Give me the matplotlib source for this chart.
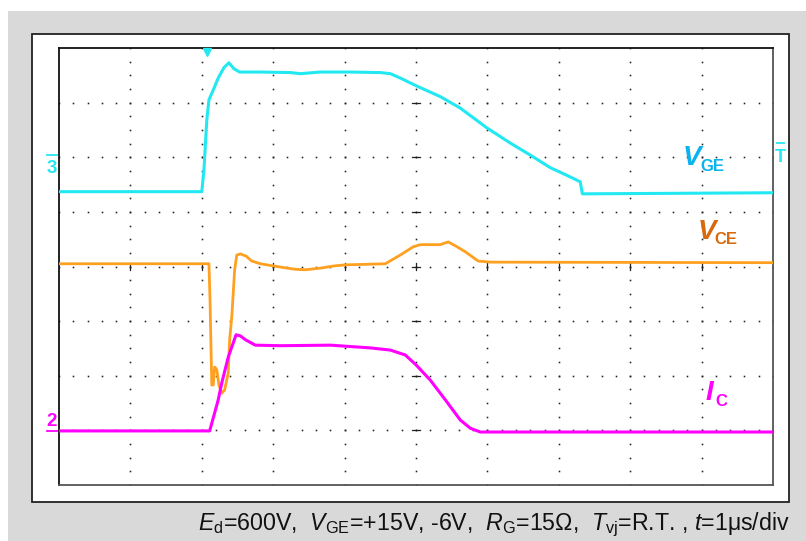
import numpy as np
import matplotlib
matplotlib.use('Agg')
import matplotlib.pyplot as plt
from matplotlib.patches import Rectangle
from matplotlib.lines import Line2D

plt.rcParams['font.family'] = ['Liberation Sans', 'DejaVu Sans']
plt.rcParams['mathtext.fontset'] = 'custom'
plt.rcParams['mathtext.rm'] = 'Liberation Sans'
plt.rcParams['mathtext.it'] = 'Liberation Sans:italic'

# time in us (1 us/div), amplitude in screen divisions (0 = bottom, 8 = top)
t_vge = [0, 2.00, 2.03, 2.07, 2.10, 2.16, 2.23, 2.31, 2.38, 2.45, 2.53, 2.82, 3.24, 3.38,
         3.66, 4.08, 4.50, 4.64, 4.78, 5.00, 5.34, 5.62, 5.99, 6.32, 6.60, 6.88, 7.16,
         7.30, 7.33, 10]
vge = [5.37, 5.37, 5.77, 6.68, 7.05, 7.23, 7.45, 7.64, 7.73, 7.62, 7.56, 7.56, 7.55, 7.53,
       7.56, 7.56, 7.55, 7.53, 7.45, 7.31, 7.11, 6.90, 6.54, 6.26, 6.04, 5.81, 5.64,
       5.55, 5.33, 5.35]

t_vce = [0, 2.10, 2.115, 2.14, 2.16, 2.18, 2.21, 2.24, 2.28, 2.32, 2.37, 2.39, 2.42, 2.46,
         2.49, 2.54, 2.62, 2.70, 2.82, 3.10, 3.30, 3.45, 3.66, 3.85, 4.01, 4.57, 4.78, 4.96,
         5.06, 5.34, 5.45, 5.55, 5.69, 5.87, 6.04, 10]
vce = [4.05, 4.05, 3.39, 1.83, 1.83, 2.16, 2.11, 1.83, 1.68, 1.74, 2.05, 2.66, 3.08, 3.94,
       4.21, 4.23, 4.19, 4.10, 4.05, 3.99, 3.95, 3.94, 3.97, 4.01, 4.03, 4.05, 4.21, 4.36,
       4.40, 4.40, 4.45, 4.38, 4.27, 4.10, 4.08, 4.07]

t_ic = [0, 2.11, 2.18, 2.23, 2.28, 2.37, 2.44, 2.48, 2.54, 2.61, 2.75, 3.10, 3.80, 4.36,
        4.64, 4.85, 5.00, 5.20, 5.41, 5.62, 5.76, 5.90, 10]
ic = [0.99, 0.99, 1.32, 1.56, 1.87, 2.34, 2.60, 2.75, 2.73, 2.66, 2.56, 2.55, 2.56, 2.51,
      2.47, 2.38, 2.20, 1.92, 1.56, 1.19, 1.04, 0.97, 0.97]

W, H = 806, 541
def fx(px):
    return px / W
def fy(py):
    return 1 - py / H

fig = plt.figure(figsize=(W / 100, H / 100), dpi=100)
fig.patches.append(Rectangle((fx(8), 0), 1, fy(11), transform=fig.transFigure,
                             facecolor='#d9d9d9', edgecolor='none', zorder=0))
fig.patches.append(Rectangle((fx(32), fy(502)), (789 - 32) / W, (502 - 34) / H,
                             transform=fig.transFigure, facecolor='white',
                             edgecolor='#222222', lw=1.3, zorder=1))

ax = fig.add_axes([fx(59), fy(485), (773 - 59) / W, (485 - 48) / H], zorder=2)
ax.set_xlim(0, 10)
ax.set_ylim(0, 8)
ax.set_xticks([])
ax.set_yticks([])
ax.patch.set_alpha(0)
for s in ['left', 'top']:
    ax.spines[s].set_color('#111111')
    ax.spines[s].set_linewidth(1.3)
for s in ['right', 'bottom']:
    ax.spines[s].set_color('#555555')
    ax.spines[s].set_linewidth(1.3)

# dotted graticule
gx = np.arange(0, 10.01, 0.2)
gy = np.arange(0, 8.01, 0.25)
for y in range(1, 8):
    ax.plot(gx, [y] * len(gx), ls='none', marker='s', ms=1.15, mew=0, color='#222222', zorder=1)
for x in range(1, 10):
    ax.plot([x] * len(gy), gy, ls='none', marker='s', ms=1.15, mew=0, color='#222222', zorder=1)
# centre-line ticks
for x in range(1, 10):
    ax.plot([x, x], [4 - 0.07, 4 + 0.07], color='#222222', lw=0.9, zorder=1)
for y in range(1, 8):
    ax.plot([5 - 0.05, 5 + 0.05], [y, y], color='#222222', lw=0.9, zorder=1)

ax.plot(t_vge, vge, color='#22e8f2', lw=2.2, zorder=3)
ax.plot(t_vce, vce, color='#ffa020', lw=2.0, zorder=3)
ax.plot(t_ic, ic, color='#ff00ff', lw=2.2, zorder=3)

# trigger marker
ax.plot([2.07], [7.93], marker='v', ms=6, color='#22e8f2', clip_on=False, zorder=4)

# trace labels
fig.text(fx(683), fy(165), 'V', fontsize=20, style='italic', weight='bold', color='#0ab2ee', zorder=6)
fig.text(fx(700), fy(171), 'GE', fontsize=12, weight='bold', color='#0ab2ee', zorder=6)
fig.text(fx(698), fy(239), 'V', fontsize=20, style='italic', weight='bold', color='#d66a0c', zorder=6)
fig.text(fx(714), fy(244), 'CE', fontsize=12, weight='bold', color='#d66a0c', zorder=6)
fig.text(fx(706), fy(400), 'I', fontsize=20, style='italic', weight='bold', color='#ff00ff', zorder=6)
fig.text(fx(715), fy(406), 'C', fontsize=12, weight='bold', color='#ff00ff', zorder=6)

# channel markers
fig.lines.append(Line2D([fx(47), fx(57)], [fy(155), fy(155)], transform=fig.transFigure,
                        color='#22e8f2', lw=1.3))
fig.text(fx(52), fy(173), '3', fontsize=13.5, weight='bold', color='#22e8f2', ha='center')
fig.lines.append(Line2D([fx(47), fx(57)], [fy(431), fy(431)], transform=fig.transFigure,
                        color='#ff00ff', lw=1.3))
fig.text(fx(52), fy(426), '2', fontsize=13.5, weight='bold', color='#ff00ff', ha='center')
fig.lines.append(Line2D([fx(777), fx(784)], [fy(143), fy(143)], transform=fig.transFigure,
                        color='#22e8f2', lw=1.3))
fig.text(fx(780.5), fy(162), 'T', fontsize=13, weight='bold', color='#22e8f2', ha='center')

footer = (r'$\mathit{E}_{\mathrm{d}}$=600V,  $\mathit{V}_{\mathrm{GE}}$=+15V, -6V,  '
          r'$\mathit{R}_{\mathrm{G}}$=15Ω,  $\mathit{T}_{\mathrm{vj}}$=R.T. , '
          r'$\mathit{t}$=1μs/div')
fig.text(fx(790), fy(530), footer, fontsize=16.7, ha='right', va='baseline', color='#111111')

fig.savefig('out.png', dpi=100)
